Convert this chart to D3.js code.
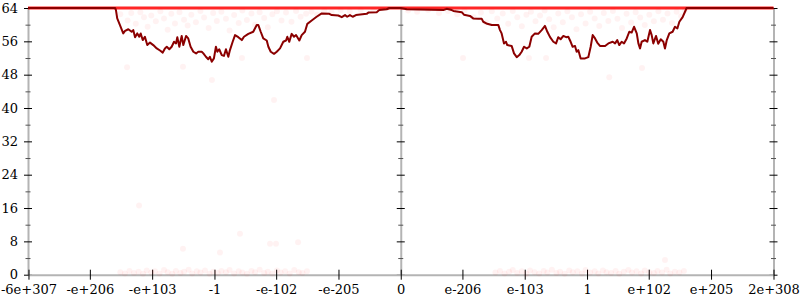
<!DOCTYPE html>
<html>
<head>
<meta charset="utf-8">
<script src="https://cdn.jsdelivr.net/npm/d3@7"></script>
<style>
  body { margin: 0; background: #fff; }
  svg { display: block; }
</style>
</head>
<body>
<svg id="chart" width="800" height="300"></svg>
<script>
  // x is the biased binary exponent of the double, signed (ordinal-style axis)
  const xTickValues = [-2044.4, -1707.3, -1365.2, -1023, -684.2, -342, 0, 338.7, 680.8, 1023, 1361.8, 1704, 2047];
  const xTickLabels = ["-6e+307", "-e+206", "-e+103", "-1", "-e-102", "-e-205", "0", "e-206", "e-103", "1", "e+102", "e+205", "2e+308"];
  const yMajorTicks = [0, 8, 16, 24, 32, 40, 48, 56, 64];
  const yMinorTicks = [4, 12, 20, 28, 36, 44, 52, 60];

  // bits of error, averaged line (dark red)
  const errorLine = [
    [-2047, 64], [-1569, 64], [-1564, 63.5], [-1557, 61.5], [-1542, 59.9], [-1524, 57.9], [-1514, 58.5],
    [-1496, 58.9], [-1478, 58.3], [-1469, 58.7], [-1459, 57.0], [-1447, 57.9], [-1436, 57.1], [-1428, 57.9],
    [-1417, 56.3], [-1405, 57.1], [-1392, 55.1], [-1377, 55.7], [-1359, 55.1], [-1340, 54.3], [-1322, 53.8],
    [-1307, 53.3], [-1295, 54.3], [-1285, 54.7], [-1271, 54.1], [-1258, 54.7], [-1245, 55.9], [-1234, 55.5],
    [-1227, 57.0], [-1216, 54.7], [-1203, 57.3], [-1194, 55.1], [-1179, 57.3], [-1167, 56.7], [-1154, 54.7],
    [-1139, 53.5], [-1124, 53.1], [-1112, 53.5], [-1093, 53.5], [-1084, 53.1], [-1070, 52.3], [-1057, 51.7],
    [-1048, 52.3], [-1038, 51.1], [-1026, 51.9], [-1015, 54.7], [-1007, 53.5], [-997, 54.1], [-983, 52.7],
    [-971, 52.5], [-960, 54.1], [-947, 52.3], [-938, 53.9], [-923, 55.9], [-910, 57.5], [-892, 57.0],
    [-873, 56.3], [-861, 57.1], [-837, 57.8], [-810, 58.3], [-791, 59.9], [-782, 59.9], [-769, 58.3],
    [-755, 56.7], [-736, 56.2], [-727, 54.7], [-714, 53.5], [-696, 53.0], [-681, 53.5], [-663, 54.3],
    [-645, 55.9], [-630, 56.2], [-623, 57.1], [-612, 55.9], [-599, 57.8], [-586, 57.1], [-575, 57.5],
    [-557, 56.2], [-544, 57.5], [-526, 58.3], [-513, 60.2], [-489, 61.0], [-462, 61.9], [-434, 62.7],
    [-392, 62.6], [-379, 62.3], [-343, 62.2], [-324, 61.8], [-306, 62.3], [-294, 61.9], [-279, 62.3],
    [-264, 61.9], [-246, 62.3], [-187, 62.6], [-178, 62.9], [-132, 63.0], [-118, 63.5], [-77, 63.7],
    [-63, 64], [0, 64],
    [33, 63.7], [234, 63.5], [252, 63.8], [280, 63.5], [289, 63.3], [335, 63.0], [347, 62.4], [380, 62.1],
    [398, 61.5], [426, 61.4], [445, 61.4], [453, 60.7], [475, 60.2], [500, 59.9], [536, 59.9], [545, 58.7],
    [554, 57.9], [567, 55.5], [578, 55.9], [585, 55.1], [609, 54.9], [622, 53.1], [637, 52.2], [651, 52.7],
    [664, 53.5], [677, 54.7], [692, 54.3], [706, 54.7], [719, 57.1], [737, 57.9], [755, 57.8], [774, 58.7],
    [792, 59.7], [805, 58.3], [820, 57.0], [838, 55.9], [853, 55.5], [865, 57.0], [878, 56.5], [893, 57.3],
    [908, 57.0], [920, 57.1], [933, 55.9], [944, 54.7], [957, 54.9], [966, 53.5], [975, 53.9], [988, 51.9],
    [1012, 51.9], [1030, 52.2], [1043, 54.7], [1054, 57.5], [1067, 56.7], [1079, 55.7], [1094, 54.9],
    [1122, 54.9], [1140, 55.5], [1164, 55.9], [1177, 55.5], [1189, 56.3], [1200, 55.1], [1213, 55.9],
    [1226, 55.5], [1241, 56.7], [1255, 58.3], [1268, 58.1], [1281, 59.5], [1296, 57.9], [1305, 55.5],
    [1314, 54.3], [1323, 55.9], [1341, 56.3], [1354, 55.9], [1369, 58.7], [1378, 57.5], [1387, 55.5],
    [1402, 57.3], [1414, 55.4], [1428, 56.5], [1442, 55.9], [1451, 54.3], [1461, 56.3], [1475, 57.9],
    [1493, 58.3], [1506, 59.5], [1519, 59.1], [1530, 60.7], [1548, 61.8], [1561, 63.1], [1570, 64],
    [2047, 64]
  ];

  // bits of error of the single sampled points (faint red)
  const samplePoints = [
    // near the top
    [-1540, 62.5], [-1500, 61], [-1480, 62.8], [-1455, 60.2], [-1430, 63], [-1410, 61.8], [-1390, 59.5],
    [-1370, 62.2], [-1345, 60.8], [-1320, 63.2], [-1300, 61.5], [-1280, 58.8], [-1260, 62.6], [-1240, 60.3],
    [-1215, 63], [-1190, 61.2], [-1170, 59.8], [-1150, 62.4], [-1125, 60.6], [-1100, 63.3], [-1080, 61.7],
    [-1055, 59.2], [-1030, 62.8], [-1010, 60.9], [-985, 63.1], [-960, 61.4], [-940, 58.6], [-915, 62.3],
    [-890, 60.4], [-870, 63.4], [-845, 61.1], [-820, 62.7], [-800, 60], [-775, 63], [-750, 61.6],
    [-730, 59.4], [-705, 62.5], [-680, 63.2], [-655, 61], [-630, 62.9], [-600, 60.7], [-575, 63.3],
    [-550, 61.9], [-520, 62.6], [-490, 63.1], [-460, 62.4], [-420, 63.4], [-380, 62.9], [-330, 63.5],
    [-280, 63.2], [-220, 63.6], [-150, 63.4],
    [40, 63.4], [90, 63.1], [150, 63.5], [210, 62.8], [260, 63.3], [310, 62.5], [350, 63.4], [400, 61.8],
    [440, 62.9], [470, 60.5], [500, 63.2], [530, 61.5], [560, 62.7], [590, 60.2], [615, 63.3], [640, 61.8],
    [665, 59.6], [690, 62.4], [715, 63.1], [740, 60.8], [765, 62.2], [790, 63.4], [815, 61.3], [840, 59.4],
    [865, 62.7], [890, 60.6], [915, 63.2], [940, 61.8], [965, 58.9], [990, 62.5], [1015, 60.3], [1040, 63.1],
    [1065, 61.5], [1090, 59.7], [1115, 62.8], [1140, 60.9], [1165, 63.3], [1190, 61.4], [1215, 59.2],
    [1240, 62.6], [1265, 60.5], [1290, 63], [1315, 61.7], [1340, 59.9], [1365, 62.4], [1390, 60.8],
    [1415, 63.2], [1440, 61.2], [1465, 62.7], [1490, 60.4], [1515, 63.1], [1540, 62], [1560, 63.5],
    // scattered in the middle
    [-1503, 49.8], [-1196, 49.9], [-1037, 46.7], [-872, 52], [-696, 41.9], [-515, 52],
    [-1437, 16.6], [-1196, 6.2], [-993, 5.3], [-883, 9.8], [-718, 7.4], [-685, 7.4], [-564, 7.8],
    [342, 52], [704, 52], [798, 52], [1145, 47.4], [1325, 49.6], [1451, 3.5],
    // near zero
    [-1540, 0.6], [-1515, 0.3], [-1490, 0.9], [-1465, 0.4], [-1440, 0.7], [-1415, 0.2], [-1395, 1.0],
    [-1370, 0.5], [-1350, 0.8], [-1325, 0.3], [-1300, 1.1], [-1280, 0.6], [-1255, 0.2], [-1235, 0.9],
    [-1210, 0.4], [-1190, 0.7], [-1165, 1.2], [-1145, 0.3], [-1120, 0.8], [-1100, 0.5], [-1075, 1.0],
    [-1050, 0.2], [-1030, 0.7], [-1005, 0.4], [-985, 0.9], [-960, 0.6], [-940, 1.1], [-915, 0.3],
    [-890, 0.8], [-870, 0.5], [-845, 0.2], [-820, 0.9], [-800, 0.6], [-775, 1.2], [-750, 0.4],
    [-730, 0.7], [-705, 0.3], [-680, 1.0], [-660, 0.5], [-635, 0.8], [-610, 0.3], [-585, 1.1],
    [-560, 0.6], [-540, 0.4], [-515, 0.8],
    [520, 0.5], [545, 0.9], [570, 0.3], [595, 0.7], [615, 1.1], [640, 0.4], [665, 0.8], [690, 0.2],
    [710, 1.0], [735, 0.6], [760, 0.3], [785, 0.9], [805, 0.5], [830, 1.2], [855, 0.4], [875, 0.7],
    [900, 0.2], [925, 1.0], [945, 0.6], [970, 0.8], [995, 0.3], [1015, 1.1], [1040, 0.5], [1065, 0.8],
    [1085, 0.3], [1110, 1.0], [1130, 0.6], [1155, 0.4], [1180, 0.9], [1200, 0.2], [1225, 0.7],
    [1250, 1.1], [1270, 0.5], [1295, 0.8], [1320, 0.3], [1340, 1.0], [1365, 0.6], [1390, 0.4],
    [1410, 0.9], [1435, 0.5], [1460, 1.2], [1480, 0.3], [1505, 0.7], [1530, 0.5], [1555, 0.9]
  ];

  const maxBits = [[-2047, 64], [2047, 64]];

  const FONT = "DejaVu Serif, serif";
  const AXIS_GRAY = "#b4b4b4";

  const svg = d3.select("#chart");
  const x = d3.scaleLinear().domain([-2047, 2047]).range([28, 773.5]);
  const y = d3.scaleLinear().domain([0, 64]).range([274.7, 8]);

  function styleAxis(g) {
    g.select(".domain").attr("stroke", AXIS_GRAY).attr("stroke-width", 2);
    g.selectAll("text").attr("font-family", FONT).attr("font-size", 13).attr("fill", "#000");
  }

  // vertical axes: left (with labels), middle at zero, right
  function drawYAxis(xPos, withLabels) {
    const major = d3.axisLeft(y)
      .tickValues(yMajorTicks)
      .tickSizeInner(4)
      .tickSizeOuter(0)
      .tickPadding(6)
      .tickFormat(withLabels ? d3.format("d") : "");
    const g = svg.append("g").attr("transform", `translate(${xPos},0)`).call(major);
    styleAxis(g);
    g.selectAll(".tick line").attr("x1", 4).attr("x2", -4).attr("stroke", "#000");

    const minor = d3.axisLeft(y).tickValues(yMinorTicks).tickSize(0).tickFormat("");
    const gm = svg.append("g").attr("transform", `translate(${xPos},0)`).call(minor);
    gm.select(".domain").remove();
    gm.selectAll(".tick line").attr("x1", 2.5).attr("x2", -2.5).attr("stroke", "#555");
  }

  drawYAxis(x(-2047), true);
  drawYAxis(x(0), false);
  drawYAxis(x(2047), false);

  const xAxis = d3.axisBottom(x)
    .tickValues(xTickValues)
    .tickFormat((d, i) => xTickLabels[i])
    .tickSizeInner(5)
    .tickSizeOuter(0)
    .tickPadding(5);
  const gx = svg.append("g").attr("transform", `translate(0,${y(0)})`).call(xAxis);
  styleAxis(gx);
  gx.selectAll(".tick line").attr("y1", -5).attr("y2", 5).attr("stroke", "#000");

  // sampled points
  svg.append("g")
    .selectAll("circle")
    .data(samplePoints)
    .join("circle")
    .attr("cx", d => x(d[0]))
    .attr("cy", d => y(d[1]))
    .attr("r", 3)
    .attr("fill", "#ff0000")
    .attr("fill-opacity", 0.05);

  const line = d3.line().x(d => x(d[0])).y(d => y(d[1]));

  svg.append("path")
    .datum(maxBits)
    .attr("d", line)
    .attr("fill", "none")
    .attr("stroke", "#ff0000")
    .attr("stroke-opacity", 0.85)
    .attr("stroke-width", 3);

  svg.append("path")
    .datum(errorLine)
    .attr("d", line)
    .attr("fill", "none")
    .attr("stroke", "#8b0000")
    .attr("stroke-width", 2)
    .attr("stroke-linejoin", "round");
</script>
</body>
</html>
